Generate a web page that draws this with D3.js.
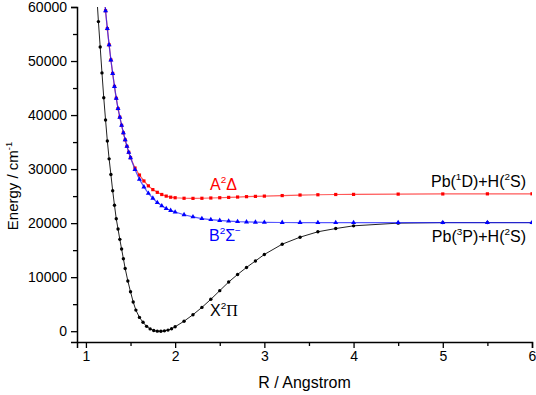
<!DOCTYPE html>
<html lang="en">
<head>
    <title>PbH potential energy curves</title>
    <style>
        body { margin: 0; background: #fff; }
        text { font-family: Arial, "Liberation Sans", sans-serif; }
    </style>
    <script src="https://d3js.org/d3.v7.min.js"></script>
</head>
<body>
<script>
    // ---- data (R in Angstrom, energy in cm-1) ----
    const rX = [1.12, 1.14, 1.16, 1.18, 1.20, 1.22, 1.24, 1.26, 1.28, 1.30, 1.32, 1.34, 1.36, 1.38, 1.40, 1.42, 1.44,
                1.47, 1.50, 1.53, 1.56,
                1.60, 1.64, 1.68, 1.72, 1.76, 1.80, 1.84, 1.88, 1.92, 1.96, 2.00,
                2.1, 2.2, 2.3, 2.4, 2.5, 2.6, 2.7, 2.8, 2.9, 3.0,
                3.2, 3.4, 3.6, 3.8, 4.0,
                4.5, 5.0, 5.5, 6.0];
    const eX = [62600, 57300, 52600, 47800, 43200, 39100, 35200, 31900, 29000, 26000, 23300, 20800, 18900, 17000, 15200, 13400, 11600,
                9300, 7300, 5400, 3900,
                2550, 1650, 900, 420, 120, 10, 0, 60, 200, 450, 820,
                1850, 3050, 4400, 5900, 7500, 9100, 10500, 11800, 13000, 14200,
                16100, 17400, 18400, 19000, 19500,
                20000, 20100, 20100, 20100];

    const rA = [1.20, 1.22, 1.24, 1.26, 1.28, 1.30, 1.32, 1.34, 1.36, 1.38, 1.40, 1.42, 1.44, 1.46, 1.48, 1.50,
                1.55, 1.60, 1.65, 1.70, 1.75, 1.80, 1.85, 1.90, 1.95, 2.00,
                2.1, 2.2, 2.3, 2.4, 2.5, 2.6, 2.7, 2.8, 2.9, 3.0,
                3.2, 3.4, 3.6, 3.8, 4.0,
                4.5, 5.0, 5.5, 6.0];
    const eA = [63000, 59300, 56000, 53000, 50200, 47700, 45300, 43100, 41200, 39600, 38100, 36700, 35400, 34200, 33100, 32100,
                30200, 28900, 27800, 26900, 26200, 25700, 25300, 25000, 24800, 24700,
                24600, 24580, 24600, 24650, 24700, 24760, 24830, 24900, 24950, 25000,
                25100, 25200, 25250, 25300, 25320,
                25370, 25400, 25420, 25430];

    const rB = rA;
    const eB = [63000, 59300, 56000, 53000, 50200, 47700, 45300, 43100, 41200, 39600, 38100, 36700, 35400, 34200, 33100, 32100,
                29900, 28100, 26700, 25500, 24600, 23800, 23200, 22700, 22350, 22050,
                21550, 21150, 20850, 20650, 20500, 20380, 20280, 20220, 20170, 20140,
                20120, 20110, 20100, 20100, 20100,
                20100, 20100, 20100, 20100];

    const xMajor = [1, 2, 3, 4, 5, 6];
    const xMinor = [1.5, 2.5, 3.5, 4.5, 5.5];
    const yMajor = [0, 10000, 20000, 30000, 40000, 50000, 60000];
    const yMinor = [5000, 15000, 25000, 35000, 45000, 55000];

    // ---- layout ----
    const width = 536, height = 395;
    const pLeft = 77, pRight = 532, pTop = 7, pBottom = 342;

    const svg = d3.select("body").append("svg")
        .attr("width", width)
        .attr("height", height);

    const x = d3.scaleLinear().domain([0.9, 6]).range([pLeft, pRight]);
    const y = d3.scaleLinear().domain([-2000, 60000]).range([pBottom, pTop]);

    svg.append("clipPath").attr("id", "plot")
        .append("rect")
        .attr("x", pLeft).attr("y", pTop)
        .attr("width", pRight - pLeft).attr("height", pBottom - pTop);

    // axes
    svg.append("g")
        .attr("transform", `translate(0,${pBottom})`)
        .call(d3.axisBottom(x).tickValues(xMajor).tickSize(6).tickPadding(3).tickFormat(d3.format("d")));
    svg.append("g")
        .attr("transform", `translate(0,${pBottom})`)
        .call(d3.axisBottom(x).tickValues(xMinor).tickSize(4).tickFormat(""))
        .select(".domain").remove();

    svg.append("g")
        .attr("transform", `translate(${pLeft},0)`)
        .call(d3.axisLeft(y).tickValues(yMajor).tickSize(6).tickPadding(4).tickFormat(d3.format("d")));
    svg.append("g")
        .attr("transform", `translate(${pLeft},0)`)
        .call(d3.axisLeft(y).tickValues(yMinor).tickSize(4).tickFormat(""))
        .select(".domain").remove();

    svg.selectAll(".domain").attr("stroke", "#000").attr("stroke-width", 1.5);
    svg.selectAll(".tick line").attr("stroke", "#000").attr("stroke-width", 1.3);
    svg.selectAll(".tick text")
        .attr("font-size", 14)
        .attr("font-family", "Arial, 'Liberation Sans', sans-serif")
        .attr("fill", "#000");

    // text with superscripts: parts = [[string, isSup, fontFamily?], ...]
    function label(parts, px, py, opts) {
        const t = svg.append("text")
            .attr("x", px).attr("y", py)
            .attr("fill", opts.color || "#000")
            .attr("text-anchor", opts.anchor || "start")
            .attr("font-size", opts.size);
        if (opts.rotate) t.attr("transform", `rotate(-90,${px},${py})`);
        let raised = false;
        const shift = opts.size * 0.42;
        parts.forEach(p => {
            const s = t.append("tspan").text(p[0]);
            if (p[1] && !raised) { s.attr("dy", -shift); raised = true; }
            else if (!p[1] && raised) { s.attr("dy", shift); raised = false; }
            s.attr("font-size", p[1] ? opts.size * 0.62 : opts.size);
            if (p[2]) s.attr("font-family", p[2]);
        });
        return t;
    }

    // axis titles
    label([["R / Angstrom"]], (pLeft + pRight) / 2, 388, { size: 16, anchor: "middle" });
    label([["Energy / cm"], ["-1", true]], 18, 186, { size: 15, anchor: "middle", rotate: true });

    // curves
    const plot = svg.append("g").attr("clip-path", "url(#plot)");
    const line = d3.line().x(d => x(d[0])).y(d => y(d[1]));

    const dX = rX.map((r, i) => [r, eX[i]]);
    const dA = rA.map((r, i) => [r, eA[i]]);
    const dB = rB.map((r, i) => [r, eB[i]]);

    // X2Pi (black, circles)
    plot.append("path").datum(dX)
        .attr("fill", "none").attr("stroke", "#222").attr("stroke-width", 1)
        .attr("d", line);
    plot.selectAll(".ptX").data(dX).enter().append("circle")
        .attr("class", "ptX")
        .attr("cx", d => x(d[0])).attr("cy", d => y(d[1]))
        .attr("r", 1.7)
        .attr("fill", "#000");

    // A2Delta (red, squares)
    plot.append("path").datum(dA)
        .attr("fill", "none").attr("stroke", "#ff2020").attr("stroke-opacity", 0.75).attr("stroke-width", 1.2)
        .attr("d", line);
    plot.selectAll(".ptA").data(dA).enter().append("rect")
        .attr("class", "ptA")
        .attr("x", d => x(d[0]) - 1.6).attr("y", d => y(d[1]) - 1.6)
        .attr("width", 3.2).attr("height", 3.2)
        .attr("fill", "#ff0000");

    // B2Sigma- (blue, triangles)
    plot.append("path").datum(dB)
        .attr("fill", "none").attr("stroke", "#2020ff").attr("stroke-opacity", 0.75).attr("stroke-width", 1.2)
        .attr("d", line);
    plot.selectAll(".ptB").data(dB).enter().append("path")
        .attr("class", "ptB")
        .attr("transform", d => `translate(${x(d[0])},${y(d[1])})`)
        .attr("d", d3.symbol().type(d3.symbolTriangle).size(11))
        .attr("fill", "#0000ff");

    // state labels
    label([["A"], ["2", true], ["Δ"]], 210, 190, { size: 16, color: "#ff0000" });
    label([["B"], ["2", true], ["Σ"], ["−", true]], 209, 241, { size: 16, color: "#0000ff" });
    label([["X"], ["2", true], ["Π", false, "'Liberation Serif', 'Times New Roman', serif"]], 210, 316, { size: 16 });
    label([["Pb("], ["1", true], ["D)+H("], ["2", true], ["S)"]], 526, 187, { size: 16, anchor: "end" });
    label([["Pb("], ["3", true], ["P)+H("], ["2", true], ["S)"]], 526, 242, { size: 16, anchor: "end" });
</script>
</body>
</html>
